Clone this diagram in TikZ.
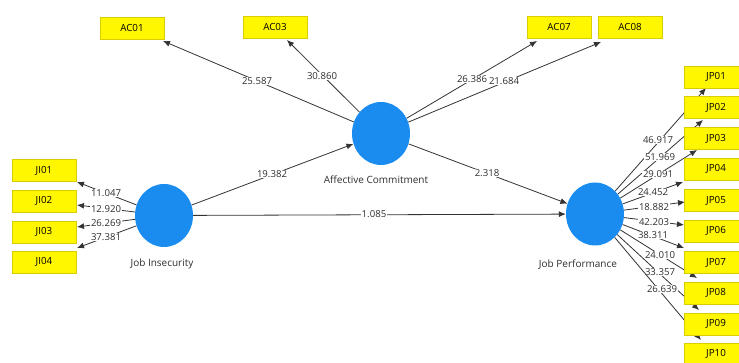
\documentclass[tikz,border=0pt]{standalone}
\usepackage{fontspec}
\setmainfont{Open Sans}
\usetikzlibrary{shapes.geometric,arrows.meta}
\definecolor{ind}{HTML}{FFF700}
\definecolor{indborder}{HTML}{D9CC00}
\definecolor{lv}{HTML}{1A8CF0}
\definecolor{conncol}{HTML}{333333}
\definecolor{txt}{HTML}{2E2E2E}
\tikzset{
  indbox/.style={rectangle, fill=ind, draw=indborder, line width=0.6pt, minimum width=64pt, minimum height=22pt, inner sep=0pt, font=\fontsize{9.8}{10}\selectfont, text=black},
  lvar/.style={ellipse, fill=lv, draw=none, minimum width=58pt, minimum height=63pt, inner sep=0pt},
  lvname/.style={font=\fontsize{10}{11}\selectfont, text=txt, inner sep=1pt},
  conn/.style={draw=conncol, line width=0.8pt, -{Latex[length=7pt,width=6pt]}},
  lbl/.style={fill=white, inner sep=0.6pt, font=\fontsize{9.6}{10}\selectfont, text=txt}
}
\begin{document}
\begin{tikzpicture}[x=1pt,y=-1pt]
\useasboundingbox (0,0) rectangle (739,363);
\fill[white] (0,0) rectangle (739,363);
\clip (0,0) rectangle (739,363);
% latent variables
\node[lvar] (ac) at (381,133.5) {};
\node[lvar] (ji) at (164,215.5) {};
\node[lvar] (jp) at (595,214) {};
\node[lvname] (acname) at (376,180) {Affective Commitment};
\node[lvname] (jiname) at (162,264) {Job Insecurity};
\node[lvname] (jpname) at (578,265) {Job Performance};
% arrow end points
\coordinate (tac01) at (163,41);
\coordinate (tac03) at (287,40);
\coordinate (tac07) at (537,41);
\coordinate (tac08) at (601,42);
\coordinate (tji01) at (77,182);
\coordinate (tji02) at (77,205);
\coordinate (tji03) at (77,227);
\coordinate (tji04) at (77,248);
\coordinate (tjp01) at (706,88);
\coordinate (tjp02) at (703,120);
\coordinate (tjp03) at (697,150);
\coordinate (tjp04) at (683,182);
\coordinate (tjp05) at (685,202);
\coordinate (tjp06) at (684,225);
\coordinate (tjp07) at (684,248);
\coordinate (tjp08) at (697,278);
\coordinate (tjp09) at (699,310);
\coordinate (tjp10) at (701,340);
% structural paths
\draw[conn] (ji) -- (ac) node[lbl] at (272,174) {19.382};
\draw[conn] (ac) -- (jp) node[lbl] at (487,173) {2.318};
\draw[conn] (ji) -- (jp) node[lbl] at (374,214) {1.085};
% AC indicators
\draw[conn] (ac) -- (tac01) node[lbl] at (257,81) {25.587};
\draw[conn] (ac) -- (tac03) node[lbl] at (322,76) {30.860};
\draw[conn] (ac) -- (tac07) node[lbl] at (472,79) {26.386};
\draw[conn] (ac) -- (tac08) node[lbl] at (504,81) {21.684};
% JI indicators
\draw[conn] (ji) -- (tji01) node[lbl] at (106,193) {11.047};
\draw[conn] (ji) -- (tji02) node[lbl] at (106,209) {12.920};
\draw[conn] (ji) -- (tji03) node[lbl] at (106,223) {26.269};
\draw[conn] (ji) -- (tji04) node[lbl] at (106,237) {37.381};
% JP indicators
\draw[conn] (jp) -- (tjp01) node[lbl] at (658,140) {46.917};
\draw[conn] (jp) -- (tjp02) node[lbl] at (660,157) {51.969};
\draw[conn] (jp) -- (tjp03) node[lbl] at (658,174) {29.091};
\draw[conn] (jp) -- (tjp04) node[lbl] at (653,192) {24.452};
\draw[conn] (jp) -- (tjp05) node[lbl] at (654,207) {18.882};
\draw[conn] (jp) -- (tjp06) node[lbl] at (654,222) {42.203};
\draw[conn] (jp) -- (tjp07) node[lbl] at (653,235) {38.311};
\draw[conn] (jp) -- (tjp08) node[lbl] at (660,255) {24.010};
\draw[conn] (jp) -- (tjp09) node[lbl] at (660,272) {33.357};
\draw[conn] (jp) -- (tjp10) node[lbl] at (662,289) {26.639};
% indicator boxes
\node[indbox] (ac01) at (132,28) {AC01};
\node[indbox] (ac03) at (275,27) {AC03};
\node[indbox] (ac07) at (559,27) {AC07};
\node[indbox] (ac08) at (630,27) {AC08};
\node[indbox] (ji01) at (44,170.5) {JI01};
\node[indbox] (ji02) at (44,201) {JI02};
\node[indbox] (ji03) at (44,232) {JI03};
\node[indbox] (ji04) at (44,262) {JI04};
\node[indbox] (jp01) at (716,77) {JP01};
\node[indbox] (jp02) at (716,107.5) {JP02};
\node[indbox] (jp03) at (716,138.5) {JP03};
\node[indbox] (jp04) at (716,169) {JP04};
\node[indbox] (jp05) at (716,200.5) {JP05};
\node[indbox] (jp06) at (716,231) {JP06};
\node[indbox] (jp07) at (716,262.5) {JP07};
\node[indbox] (jp08) at (716,293) {JP08};
\node[indbox] (jp09) at (716,324) {JP09};
\node[indbox] (jp10) at (716,354) {JP10};
\end{tikzpicture}
\end{document}
